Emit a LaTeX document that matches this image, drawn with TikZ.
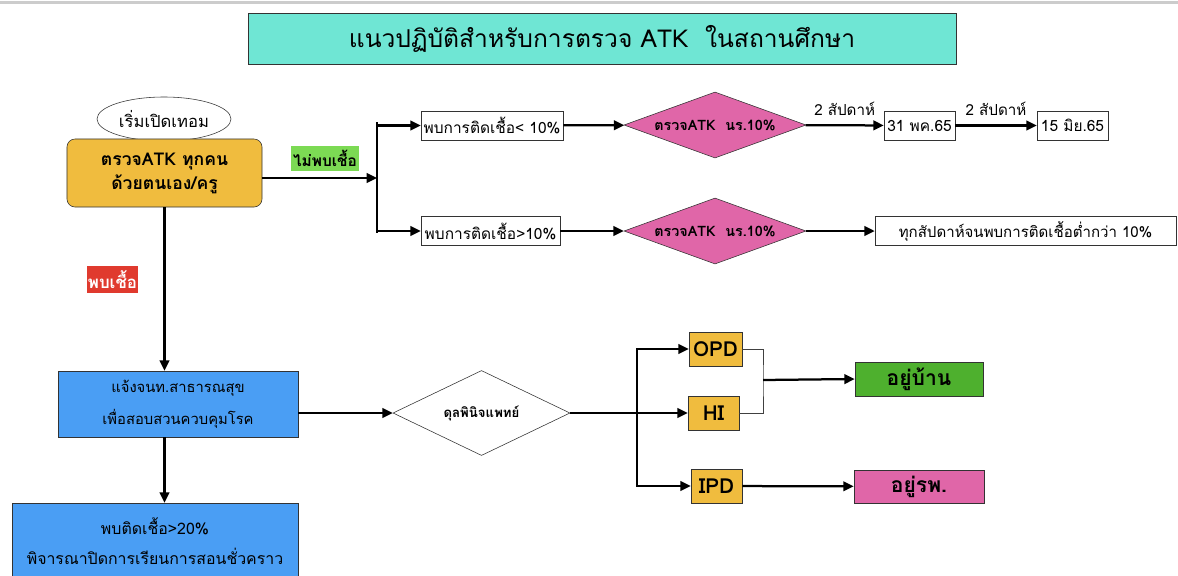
\documentclass[tikz,border=0pt]{standalone}
\usepackage{fontspec}
\setmainfont[Script=Thai]{Loma}
\usepackage{xcolor}
\usepackage{tikz}
\usetikzlibrary{shapes.geometric, arrows.meta, positioning}

\definecolor{titleteal}{RGB}{111,230,212}
\definecolor{testorange}{RGB}{240,188,62}
\definecolor{nofoundgreen}{RGB}{124,218,84}
\definecolor{foundred}{RGB}{224,58,46}
\definecolor{checkpink}{RGB}{224,102,168}
\definecolor{notifyblue}{RGB}{74,158,244}
\definecolor{homegreen}{RGB}{78,176,46}

\begin{document}
\begin{tikzpicture}[
      x=0.025cm, y=0.025cm,
      titlebox/.style={
        rectangle,
        draw=black!80,
        fill=titleteal,
        minimum width=17.7cm,
        minimum height=1.275cm,
        font=\fontsize{17.5}{21}\selectfont
      },
      orangebox/.style={
        rectangle,
        draw=black!80,
        fill=testorange,
        text centered,
        inner sep=0pt,
        font=\fontsize{12.5}{17}\selectfont\bfseries
      },
      bluebox/.style={
        rectangle,
        draw=black!80,
        fill=notifyblue,
        text centered,
        inner sep=0pt
      },
      whitebox/.style={
        rectangle,
        draw=black!80,
        fill=white,
        inner sep=0pt,
        minimum height=0.72cm,
        font=\fontsize{11}{13}\selectfont
      },
      checkdiamond/.style={
        diamond,
        draw=black!80,
        fill=checkpink,
        inner sep=0pt,
        shape aspect=2.75,
        minimum width=4.55cm,
        minimum height=1.65cm,
        font=\fontsize{10.2}{12}\selectfont\bfseries
      },
      resultbox/.style={
        rectangle,
        draw=black!80,
        inner sep=0pt,
        minimum height=0.84cm,
        font=\fontsize{15}{18}\selectfont\bfseries
      },
      tag/.style={
        inner sep=0pt,
        minimum height=0.65cm,
        font=\fontsize{11}{13}\selectfont\bfseries
      },
      weeklabel/.style={
        above=3pt,
        font=\fontsize{10.8}{13}\selectfont
      },
      arrow/.style={
        line width=1.6pt,
        -{Triangle[length=2.6mm,width=2.4mm]}
      },
      thinline/.style={
        line width=0.6pt,
        black!75
      }
    ]
    \useasboundingbox (0,0) rectangle (1178,-575);
    \clip (0,0) rectangle (1178,-575);
    \fill[black!20] (0,-1) rectangle (1178,-4);

    % Title
    \node (title) [titlebox] at (602,-38.5) {แนวปฏิบัติสำหรับการตรวจ ATK\ \ ในสถานศึกษา};

    % Start Nodes
    \node (start) [ellipse, draw=black!80, inner sep=0pt, minimum width=3.35cm, minimum height=1.1cm,
      font=\fontsize{11.8}{14}\selectfont] at (164,-119) {เริ่มเปิดเทอม};
    \node (screen) [orangebox, rounded corners=0.2cm, minimum width=4.875cm, minimum height=1.7cm,
      text width=4.6cm] at (164.5,-173) {ตรวจATK ทุกคน\\ด้วยตนเอง/ครู};
    \node (noFound) [tag, fill=nofoundgreen, minimum width=1.675cm, minimum height=0.625cm] at (325,-158.5) {ไม่พบเชื้อ};
    \node (found) [tag, fill=foundred, text=white, minimum width=1.275cm, minimum height=0.675cm,
      font=\fontsize{12}{14}\selectfont\bfseries] at (112.5,-279.5) {พบเชื้อ};

    % No infection branch
    \coordinate (split) at (377,-178);
    \coordinate (splitTop) at (377,-122);
    \coordinate (splitBot) at (377,-233);
    \node (lowRate) [whitebox, minimum width=3.55cm] at (492,-125.5) {พบการติดเชื้อ< 10\%};
    \node (lowCheck) [checkdiamond] at (715,-125) {ตรวจATK\ \ นร.10\%};
    \node (dateMay) [whitebox, minimum width=1.775cm] at (919.5,-125.5) {31 พค.65};
    \node (dateJun) [whitebox, minimum width=1.775cm] at (1072.5,-125.5) {15 มิย.65};
    \node (highRate) [whitebox, minimum width=3.475cm] at (490.5,-231) {พบการติดเชื้อ>10\%};
    \node (highCheck) [checkdiamond] at (715,-231) {ตรวจATK\ \ นร.10\%};
    \node (weekly) [whitebox, minimum width=7.525cm, font=\fontsize{10.7}{13}\selectfont] at (1025.5,-231) {ทุกสัปดาห์จนพบการติดเชื้อต่ำกว่า 10\%};

    % Infection branch
    \node (notify) [bluebox, minimum width=6cm, minimum height=1.65cm, text width=5.8cm,
      font=\fontsize{10.5}{23}\selectfont] at (178,-404) {แจ้งจนท.สาธารณสุข\\เพื่อสอบสวนควบคุมโรค};
    \node (doctor) [diamond, draw=black!80, fill=white, inner sep=0pt, shape aspect=2.08,
      minimum width=4.425cm, minimum height=2.125cm, font=\fontsize{9.4}{12}\selectfont\bfseries] at (481.5,-413) {ดุลพินิจแพทย์};
    \coordinate (split2) at (637,-413);
    \node (opd) [orangebox, minimum width=1.325cm, minimum height=0.85cm, font=\fontsize{14.7}{17}\selectfont\bfseries] at (715.5,-349) {OPD};
    \node (hi) [orangebox, minimum width=1.275cm, minimum height=0.85cm, font=\fontsize{14.7}{17}\selectfont\bfseries] at (713.5,-413) {HI};
    \node (ipd) [orangebox, minimum width=1.275cm, minimum height=0.85cm, font=\fontsize{14.7}{17}\selectfont\bfseries] at (716.5,-486) {IPD};
    \coordinate (merge) at (763,-380);
    \node (home) [resultbox, fill=homegreen, minimum width=3.2cm] at (919,-379) {อยู่บ้าน};
    \node (hosp) [resultbox, fill=checkpink, minimum width=3.25cm, minimum height=0.825cm] at (919,-486.5) {อยู่รพ.};
    \node (close) [bluebox, minimum width=7.15cm, minimum height=1.9cm, text width=7cm,
      font=\fontsize{11.3}{21}\selectfont] at (155,-541) {พบติดเชื้อ>20\%\\พิจารณาปิดการเรียนการสอนชั่วคราว};

    % Arrows for no infection
    \draw [arrow] (screen.east |- split) -- (split);
    \draw [line width=1.6pt] (splitTop) -- (splitBot);
    \draw [arrow] (lowRate.west -| split) -- (lowRate.west);
    \draw [arrow] (highRate.west -| split) -- (highRate.west);
    \draw [arrow] (lowRate) -- (lowCheck);
    \draw [arrow] (lowCheck) -- node[weeklabel] {2 สัปดาห์} (dateMay);
    \draw [arrow] (dateMay) -- node[weeklabel] {2 สัปดาห์} (dateJun);
    \draw [arrow] (highRate) -- (highCheck);
    \draw [arrow] (highCheck) -- (weekly);

    % Arrows for infection
    \draw [arrow] (screen.south) -- (screen.south |- notify.north);
    \draw [arrow] (screen.south |- notify.south) -- (screen.south |- close.north);
    \draw [arrow] (notify.east |- doctor.west) -- (doctor.west);
    \draw [line width=1.6pt] (doctor.east) -- (split2);
    \draw [arrow] (split2) |- (opd.west);
    \draw [arrow] (split2) -- (hi.west);
    \draw [arrow] (split2) |- (ipd.west);
    \draw [thinline] (opd.east) -| (merge) |- (hi.east);
    \draw [arrow] (merge) -- (home.west);
    \draw [arrow] (ipd) -- (hosp);

\end{tikzpicture}
\end{document}
